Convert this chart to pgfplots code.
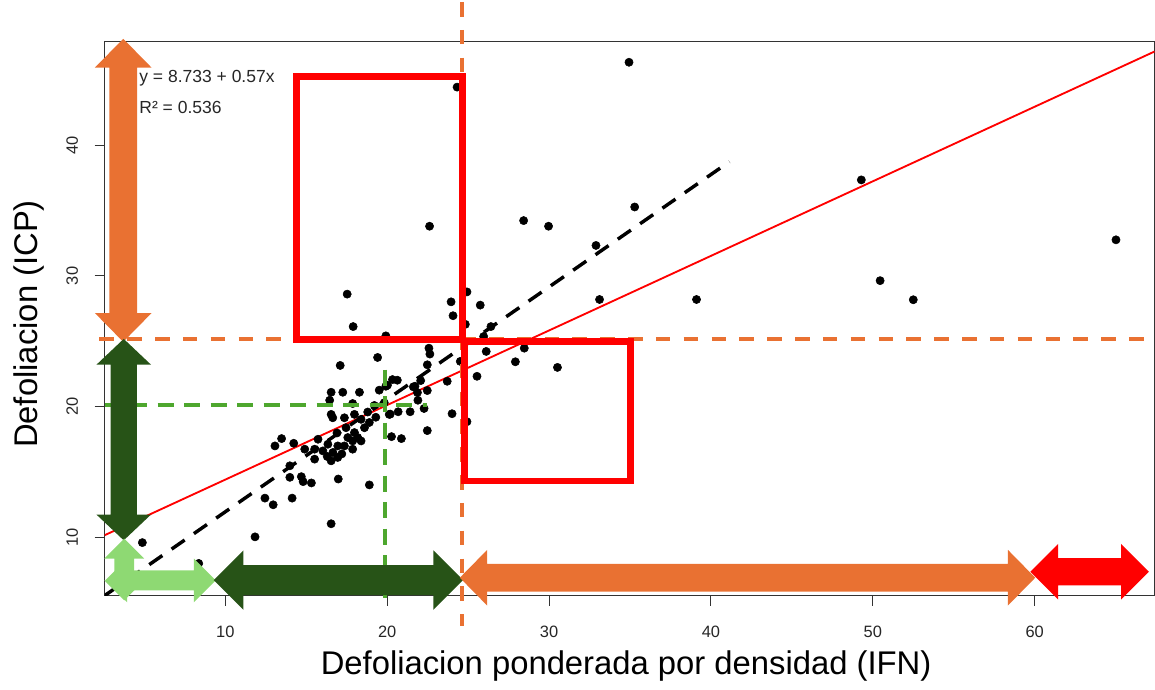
\documentclass[border=0pt]{standalone}
\usepackage{fontspec}
\setmainfont{Liberation Sans}
\usepackage{pgfplots}
\pgfplotsset{compat=1.18}
\definecolor{orng}{HTML}{E97132}
\definecolor{dgreen}{HTML}{275317}
\definecolor{lgreen}{HTML}{8ED973}
\definecolor{gline}{HTML}{4EA72E}
\definecolor{rred}{HTML}{FF0000}
% horizontal double arrow: color, x-left tip, x-right tip, y centre, head length, head half-width, shaft half-width (pixels, y down)
\newcommand{\harrow}[7]{%
  \fill[#1] (#2,#4) -- (#2+#5,#4-#6) -- (#2+#5,#4-#7) -- (#3-#5,#4-#7) -- (#3-#5,#4-#6) -- (#3,#4)
   -- (#3-#5,#4+#6) -- (#3-#5,#4+#7) -- (#2+#5,#4+#7) -- (#2+#5,#4+#6) -- cycle;}
% vertical double arrow: color, x centre, y top tip, y bottom tip, head length, head half-width, shaft half-width
\newcommand{\varrow}[7]{%
  \fill[#1] (#2,#3) -- (#2+#6,#3+#5) -- (#2+#7,#3+#5) -- (#2+#7,#4-#5) -- (#2+#6,#4-#5) -- (#2,#4)
   -- (#2-#6,#4-#5) -- (#2-#7,#4-#5) -- (#2-#7,#3+#5) -- (#2-#6,#3+#5) -- cycle;}
\begin{document}
\begin{tikzpicture}
\begin{scope}[x=0.75pt,y=-0.75pt]
\useasboundingbox (0,0) rectangle (1155,692);
\end{scope}
\begin{axis}[
  at={(78.975pt,-447.975pt)}, anchor=south west,
  width=792.3pt, height=418pt, scale only axis,
  xmin=2.55, xmax=67.4, ymin=5.57, ymax=47.9,
  xtick={10,20,30,40,50,60}, ytick={10,20,30,40},
  tick align=outside, tick pos=left,
  major tick length=7.5pt,
  tick style={black!80, line width=0.75pt},
  axis line style={black!80, line width=0.75pt},
  /pgf/number format/assume math mode=true,
  ticklabel style={font=\fontsize{12.4}{14}\selectfont, text=black!85},
  xticklabel style={yshift=-12pt},
  yticklabel style={rotate=90, anchor=south, yshift=9pt},
  xlabel={Defoliacion ponderada por densidad (IFN)},
  ylabel={Defoliacion (ICP)},
  every axis x label/.style={at={(axis description cs:0.4967,-0.1269)}, anchor=center, font=\fontsize{24.75}{29}\selectfont},
  every axis y label/.style={at={(axis description cs:-0.0725,0.4904)}, anchor=center, rotate=90, font=\fontsize{24.75}{29}\selectfont},
]
\addplot[only marks, mark=*, mark size=3.1pt, black] coordinates {
(4.88,9.62)(8.36,8.03)(11.84,10.06)(12.45,13.02)(12.96,12.51)(14.13,13.02)(13.99,14.61)(13.99,15.49)(14.70,14.66)(14.81,14.28)(15.32,14.18)(16.98,14.48)(18.90,14.03)(16.54,11.06)
(13.48,17.57)(13.07,17.01)(14.23,17.21)(14.91,16.76)(15.73,17.52)(16.34,17.14)(15.52,16.76)(16.03,16.63)(16.65,16.51)(16.95,17.01)(17.57,17.65)(17.87,17.39)(18.18,17.65)(17.87,16.76)(18.39,17.39)(17.36,17.01)(16.54,15.87)(16.95,16.13)(15.52,16.00)(17.20,16.40)(16.30,16.20)
(17.46,18.40)(18.60,18.40)(17.98,18.03)(16.64,19.16)(16.54,19.42)(17.36,19.16)(17.98,19.42)(18.39,19.04)(16.90,18.00)(18.90,18.80)(19.30,19.20)(18.80,19.60)
(16.45,20.50)(17.87,20.25)(19.21,20.10)(19.82,20.31)(20.13,19.42)(20.68,19.62)(21.42,19.62)(20.19,19.44)(20.27,17.72)(20.88,17.57)(22.28,19.87)(24.01,19.47)(24.93,18.86)(22.48,18.18)(21.90,20.50)
(16.54,21.11)(17.26,21.11)(18.29,21.11)(19.51,21.27)(20.02,21.65)(19.92,21.57)(20.33,22.08)(20.63,22.03)(21.62,21.52)(21.72,21.57)(21.87,21.09)(22.48,21.24)(22.07,22.00)(23.71,21.95)(25.55,22.33)
(17.10,23.16)(19.41,23.77)(22.48,23.21)(24.52,23.47)(22.58,24.48)(22.64,24.03)(26.12,24.23)(28.47,24.48)(27.92,23.44)(30.52,23.01)
(19.92,25.42)(17.90,26.13)(17.53,28.61)(24.07,26.96)(24.83,26.30)(26.41,26.13)(25.96,25.37)(24.93,28.78)(23.95,28.02)(25.75,27.77)(22.62,33.80)(24.32,44.43)
(28.43,34.23)(29.97,33.80)(35.29,35.27)(32.90,32.33)(33.12,28.20)(39.11,28.20)(34.94,46.33)(49.29,37.34)(50.45,29.64)(52.50,28.18)(65.02,32.76)
};
\addplot[rred, line width=1.4pt] coordinates {(2.55,10.186) (67.4,47.15)};
\addplot[black, line width=2.6pt, dash pattern=on 12pt off 8.5pt] coordinates {(2.55,5.57) (41.14,38.73)};
\end{axis}
\begin{scope}[x=0.75pt,y=-0.75pt]
% guide lines
\draw[orng, line width=3pt, dash pattern=on 11pt off 10pt] (465,0) -- (465,628);
\draw[orng, line width=3pt, dash pattern=on 11pt off 10pt] (100,339.3) -- (1155,339.3);
\draw[gline, line width=3pt, dash pattern=on 12pt off 8pt] (105.3,405.7) -- (430,405.7);
\draw[gline, line width=3pt, dash pattern=on 12pt off 8pt] (387.3,370) -- (387.3,608);
% red rectangles
\draw[rred, line width=5.25pt, miter limit=10] (298.5,75) rectangle (465.5,339.7);
\draw[rred, line width=5.25pt, miter limit=10] (467,342) rectangle (634.2,482);
% arrows
\varrow{orng}{124}{37}{342}{29}{28.5}{14}
\varrow{dgreen}{124.5}{339}{541.7}{26}{27.5}{13.3}
\varrow{lgreen}{125}{540}{602}{20}{20}{10}
\harrow{lgreen}{106}{217}{582}{22}{22}{10}
\harrow{dgreen}{215}{466}{581.7}{30}{30}{15}
\harrow{orng}{462.7}{1041.7}{579.3}{27.5}{28}{14}
\harrow{rred}{1036.7}{1156}{573.3}{28}{28}{13.7}
% equation text
\node[anchor=base west, inner sep=0, font=\fontsize{13.2}{15}\selectfont, text=black!85] at (140,81) {y = 8.733 + 0.57x};
\node[anchor=base west, inner sep=0, font=\fontsize{13.2}{15}\selectfont, text=black!85] at (140,112.7) {R² = 0.536};
\end{scope}
\end{tikzpicture}
\end{document}
